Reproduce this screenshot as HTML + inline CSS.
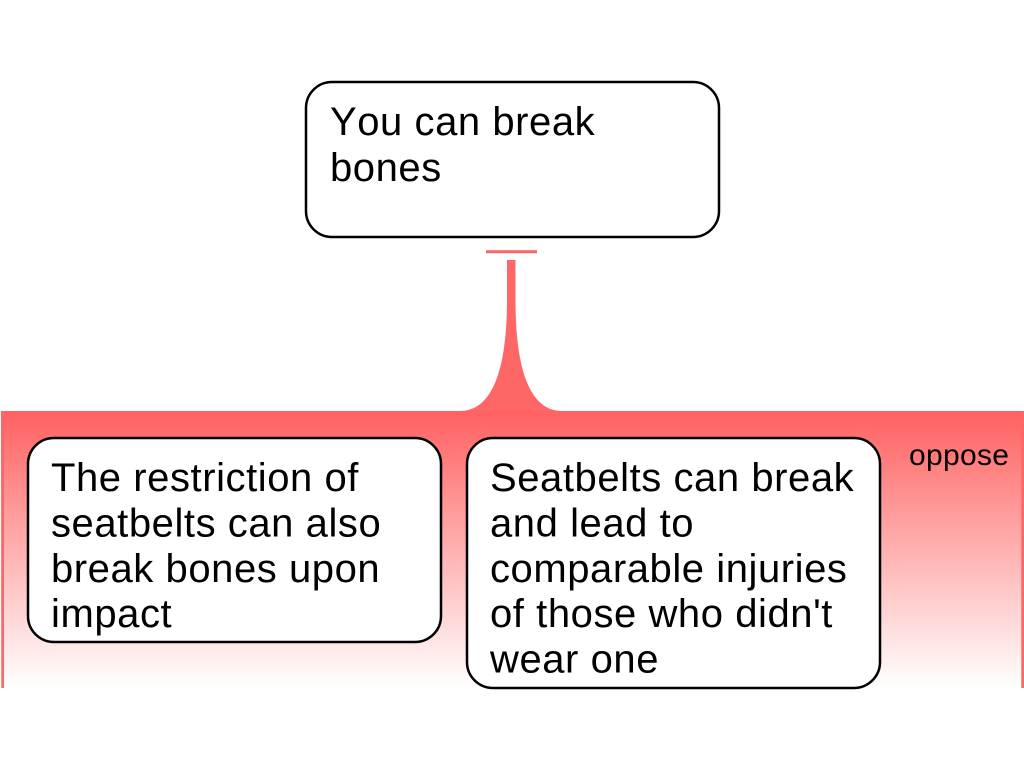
<!DOCTYPE html>
<html><head><meta charset="utf-8"><style>
html,body{margin:0;padding:0;background:#fff}
svg{display:block}
text{font-family:"Liberation Sans",Arial,sans-serif;fill:#000;font-kerning:none}
.t{font-size:40px;letter-spacing:.56px}
</style></head><body>
<svg width="1024" height="768" viewBox="0 0 1024 768" xmlns="http://www.w3.org/2000/svg">
<defs><linearGradient id="g" x1="0" y1="0" x2="0" y2="1"><stop offset="0.01" stop-color="#ff6262"/><stop offset="1" stop-color="#ffffff"/></linearGradient></defs>
<rect x="1" y="411" width="1023" height="277" fill="url(#g)"/>
<rect x="1.300" y="411" width="2.700" height="277" fill="#ff6666"/>
<rect x="1021.300" y="411" width="2.700" height="277" fill="#ff6666"/>
<path d="M507 260H515.500V300C515.500 370 530 411 562 411H460C492 411 507 370 507 300Z" fill="#ff6666"/>
<rect x="486" y="250.200" width="51" height="3" fill="#ff6666"/>
<rect x="306" y="82" width="413" height="155" rx="26" fill="#fff" stroke="#000" stroke-width="2.500"/>
<rect x="28" y="438" width="413" height="204" rx="26" fill="#fff" stroke="#000" stroke-width="2.500"/>
<rect x="467" y="438" width="413" height="250" rx="26" fill="#fff" stroke="#000" stroke-width="2.500"/>
<text class="t" x="330" y="135">You can break</text>
<text class="t" x="330" y="181">bones</text>
<text class="t" x="51" y="491">The restriction of</text>
<text class="t" x="51" y="536.500">seatbelts can also</text>
<text class="t" x="51" y="582">break bones upon</text>
<text class="t" x="51" y="627">impact</text>
<text class="t" x="490" y="491">Seatbelts can break</text>
<text class="t" x="490" y="536.500">and lead to</text>
<text class="t" x="490" y="582">comparable injuries</text>
<text class="t" x="490" y="627">of those who didn't</text>
<text class="t" x="490" y="672.500">wear one</text>
<text x="909" y="465" font-size="30" letter-spacing=".3">oppose</text>
</svg>
</body></html>
